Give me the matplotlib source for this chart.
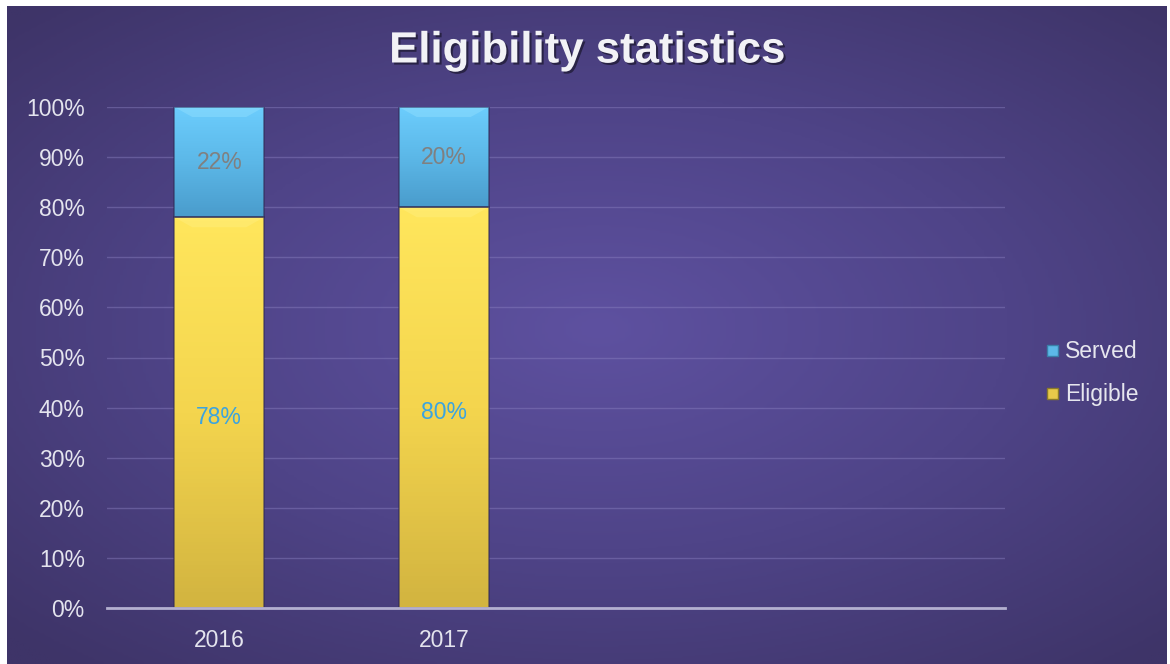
import numpy as np
import matplotlib
matplotlib.use('Agg')
from matplotlib import pyplot as plt
import matplotlib.patheffects as pe
from matplotlib.colors import LinearSegmentedColormap

plt.rcParams['font.family'] = ['Liberation Sans', 'DejaVu Sans']

# data
years = ['2016', '2017', '', '']
eligible = [78, 80, 0, 0]
served = [22, 20, 0, 0]
series_names = ['Served', 'Eligible']
yticks = np.arange(0, 101, 10)

W, H = 1170, 664
fig = plt.figure(figsize=(W / 100, H / 100), dpi=100)
fig.patch.set_facecolor('white')

# radial purple background
bg = fig.add_axes([7 / W, 0, 1160 / W, 658 / H])
bg.set_axis_off()
gx, gy = np.meshgrid(np.linspace(-1, 1, 400), np.linspace(-1, 1, 240))
r = np.sqrt(((gx - 0.02) / 1.05) ** 2 + ((gy + 0.02) / 1.0) ** 2)
r = np.clip(r / 1.35, 0, 1)
bg_cmap = LinearSegmentedColormap.from_list('bg', ['#5e51a0', '#4f4488', '#3e3468'])
bg.imshow(r, cmap=bg_cmap, aspect='auto', extent=(0, 1, 0, 1), vmin=0, vmax=1)

ax = fig.add_axes([107 / W, (H - 608) / H, (1005 - 107) / W, (608 - 107) / H])
ax.patch.set_alpha(0)

x = np.arange(len(years))
bw = 0.4

yel_cmap = LinearSegmentedColormap.from_list('y', ['#d2b440', '#f4d54e', '#ffe65c'])
blu_cmap = LinearSegmentedColormap.from_list('b', ['#4a9ccc', '#5cb8e8', '#6ccdfd'])
grad = np.linspace(0, 1, 100).reshape(-1, 1)


def grad_bar(xc, y0, h, cmap, top_col):
    if h <= 0:
        return
    x0, x1 = xc - bw / 2, xc + bw / 2
    ax.imshow(grad, cmap=cmap, aspect='auto', origin='lower',
              extent=(x0, x1, y0, y0 + h), zorder=2)
    # bevel highlight at the top
    ax.fill([x0, x1, x1 - 0.08, x0 + 0.08], [y0 + h, y0 + h, y0 + h - 2, y0 + h - 2],
            color=top_col, alpha=0.35, zorder=3, lw=0)
    ax.add_patch(plt.Rectangle((x0, y0), bw, h, fill=False, ec='#2f2a55',
                               lw=1.2, alpha=0.6, zorder=4))


for i in range(len(years)):
    grad_bar(x[i], 0, eligible[i], yel_cmap, '#fff38a')
    grad_bar(x[i], eligible[i], served[i], blu_cmap, '#9fe6ff')
    if eligible[i] > 0:
        ax.text(x[i], eligible[i] / 2 - 1, f'{eligible[i]}%', ha='center', va='center',
                color='#3ba4e0', fontsize=16.5, zorder=5)
    if served[i] > 0:
        ax.text(x[i], eligible[i] + served[i] / 2, f'{served[i]}%', ha='center', va='center',
                color='#808080', fontsize=16.5, zorder=5)

ax.set_xlim(-0.5, len(years) - 0.5)
ax.set_ylim(0, 100)
ax.set_yticks(yticks)
ax.set_yticklabels([f'{v}%' for v in yticks])
ax.set_xticks(x)
ax.set_xticklabels(years)
ax.tick_params(length=0, colors='#e4e4ee', labelsize=16.5)
ax.tick_params(axis='y', pad=16)
ax.tick_params(axis='x', pad=15)
for s in ['top', 'right', 'left']:
    ax.spines[s].set_visible(False)
ax.spines['bottom'].set_color('#b4b0d0')
ax.spines['bottom'].set_linewidth(2)
ax.spines['bottom'].set_zorder(6)
ax.grid(axis='y', color='#8a80c0', alpha=0.45, lw=1)
ax.set_axisbelow(True)

# legend
sw_x, tx = 1047 / W, 1065 / W
for name, yy, col, edge in [('Served', 351, '#5cb8e8', '#3a7fa8'), ('Eligible', 394, '#e8c94a', '#8a7a2a')]:
    fig.patches.append(plt.Rectangle((sw_x, (H - yy - 5) / H), 11 / W, 11 / H,
                                     transform=fig.transFigure, fc=col, ec=edge, lw=1))
    fig.text(tx, (H - yy) / H, name, color='#e6e6ee', fontsize=16.5, va='center', ha='left')

fig.text(587 / W, (H - 51) / H, 'Eligibility statistics', color='#f2f2f6', fontsize=31.5,
         fontweight='bold', ha='center', va='center',
         path_effects=[pe.SimplePatchShadow(offset=(1.5, -1.5), shadow_rgbFace='black', alpha=0.45),
                       pe.Normal()])

fig.savefig('out.png', dpi=100)
